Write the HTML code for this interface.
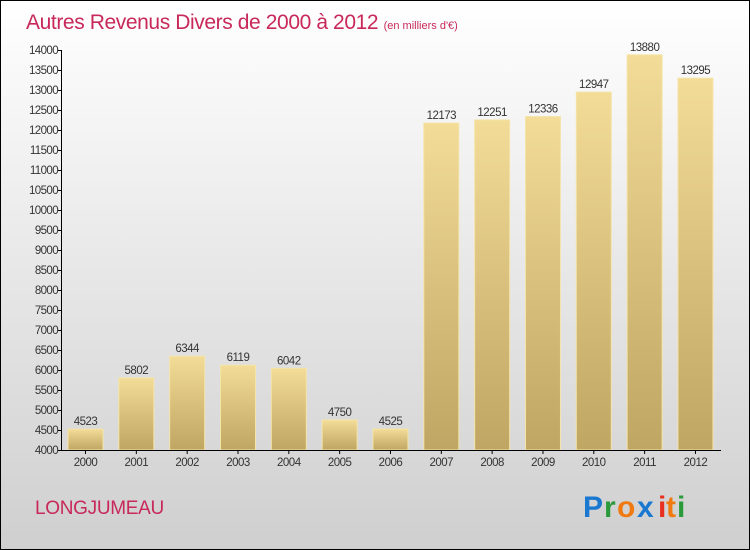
<!DOCTYPE html>
<html><head><meta charset="utf-8"><style>
body{margin:0}
#c{width:750px;height:550px;position:relative;overflow:hidden;font-family:"Liberation Sans",sans-serif}
</style></head><body>
<div id="c">
<svg width="750" height="550" xmlns="http://www.w3.org/2000/svg" id="svg" font-family="Liberation Sans, sans-serif">
<defs>
<linearGradient id="bg" x1="0" y1="0" x2="0" y2="1"><stop offset="0" stop-color="#ffffff"/><stop offset="1" stop-color="#cfcfcf"/></linearGradient>
<linearGradient id="bar" x1="0" y1="0" x2="0" y2="1"><stop offset="0" stop-color="#f3dc97"/><stop offset="1" stop-color="#bfa663"/></linearGradient>
</defs>
<rect x="0.5" y="0.5" width="749" height="549" fill="url(#bg)" stroke="#000"/>
<text x="26" y="29" font-size="21" fill="#c8285a" letter-spacing="-0.4">Autres Revenus Divers de 2000 à 2012 <tspan font-size="11" letter-spacing="0">(en milliers d'€)</tspan></text>
<g id="bars"></g>
<g id="axes"></g>
<text x="35" y="514" font-size="19" fill="#c8285a" letter-spacing="-0.3">LONGJUMEAU</text>
<g font-size="30" font-weight="bold">
<text x="583" y="517" fill="#1a78d0">P</text><text x="604" y="517" fill="#2a9a3a">r</text><text x="617" y="517" fill="#f07a10">o</text><text x="637" y="517" fill="#1a78d0">x</text><text x="658" y="517" fill="#e83020">i</text><text x="666" y="517" fill="#f07a10">t</text><text x="677" y="517" fill="#2a9a3a">i</text>
</g>
</svg>
</div>
<script>
const years=["2000","2001","2002","2003","2004","2005","2006","2007","2008","2009","2010","2011","2012"];
const values=[4523,5802,6344,6119,6042,4750,4525,12173,12251,12336,12947,13880,13295];
const yTicks=[4000,4500,5000,5500,6000,6500,7000,7500,8000,8500,9000,9500,10000,10500,11000,11500,12000,12500,13000,13500,14000];
const NS="http://www.w3.org/2000/svg";
const y=v=>450-(v-4000)*0.04;
const x=i=>85.5+i*50.83;
const bw=35;
const bars=document.getElementById('bars'),axes=document.getElementById('axes');
function mk(tag,a,p){const e=document.createElementNS(NS,tag);for(const k in a)e.setAttribute(k,a[k]);p.appendChild(e);return e;}
values.forEach((v,i)=>{
 const r=mk('rect',{x:x(i)-bw/2,y:y(v),width:bw,height:450-y(v),fill:'url(#bar)',stroke:'#f5e4a8','stroke-width':1},bars);
 
 
 const t=mk('text',{x:x(i),y:y(v)-4,'text-anchor':'middle','font-size':11.5,fill:'#333','letter-spacing':'-0.5'},bars);
 t.textContent=v;
 
 
 const xl=mk('text',{x:x(i),y:466,'text-anchor':'middle','font-size':11.5,fill:'#333','letter-spacing':'-0.5'},axes);
 xl.textContent=years[i];
 
 
 const xt=mk('line',{x1:x(i),x2:x(i),y1:450,y2:454,stroke:'#000'},axes);
 
 
});
const ya=mk('line',{x1:61.5,x2:61.5,y1:y(14000),y2:450,stroke:'#000'},axes);


const xa=mk('line',{x1:61.5,x2:721,y1:450.5,y2:450.5,stroke:'#000'},axes);


yTicks.forEach(v=>{
 const tk=mk('line',{x1:58,x2:62,y1:y(v)+0.5,y2:y(v)+0.5,stroke:'#000'},axes);
 
 
 const t=mk('text',{x:58,y:y(v)+4,'text-anchor':'end','font-size':11.5,fill:'#333','letter-spacing':'-0.6'},axes);
 t.textContent=v;
 
 
});
</script>
</body></html>
